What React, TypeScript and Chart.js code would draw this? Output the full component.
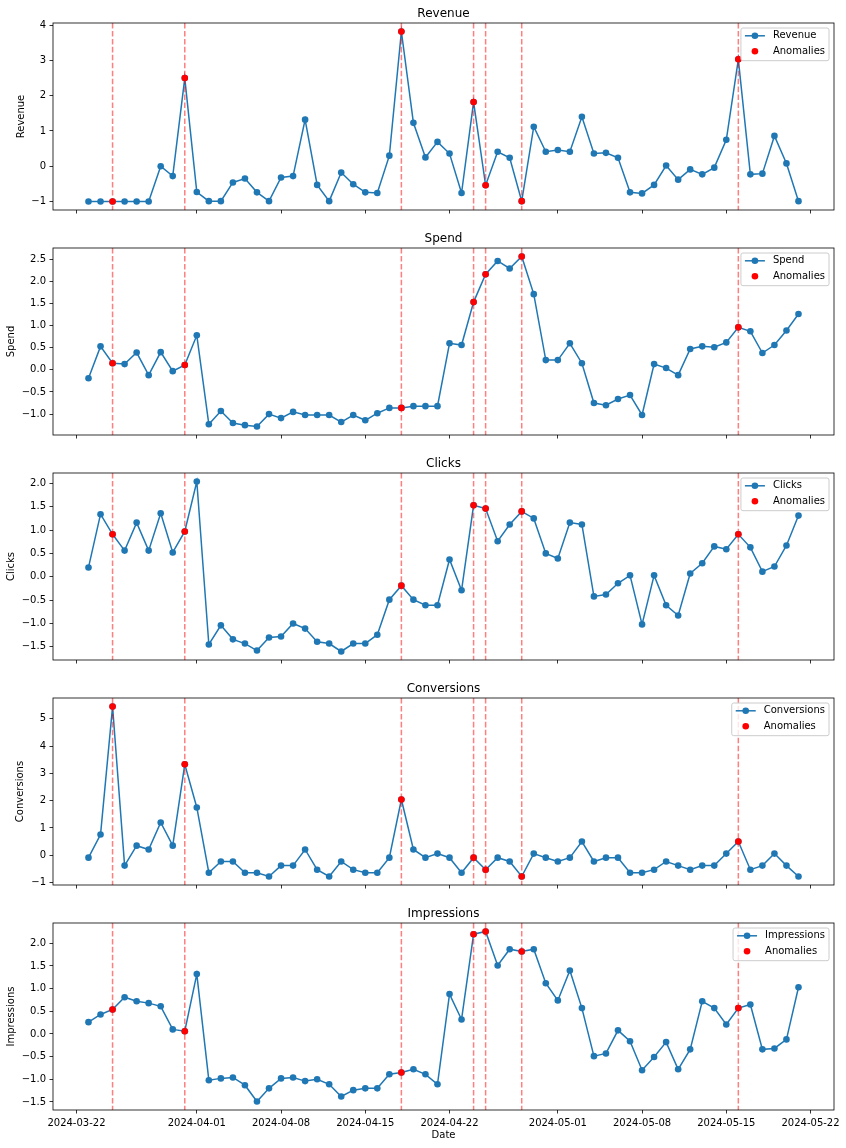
import React, { useEffect, useRef } from 'react';
import { Chart, registerables } from 'chart.js';

Chart.register(...registerables);

// ---------------- data ----------------
const dates = [
  '2024-03-23', '2024-03-24', '2024-03-25', '2024-03-26', '2024-03-27', '2024-03-28', '2024-03-29', '2024-03-30', '2024-03-31', '2024-04-01',
  '2024-04-02', '2024-04-03', '2024-04-04', '2024-04-05', '2024-04-06', '2024-04-07', '2024-04-08', '2024-04-09', '2024-04-10', '2024-04-11',
  '2024-04-12', '2024-04-13', '2024-04-14', '2024-04-15', '2024-04-16', '2024-04-17', '2024-04-18', '2024-04-19', '2024-04-20', '2024-04-21',
  '2024-04-22', '2024-04-23', '2024-04-24', '2024-04-25', '2024-04-26', '2024-04-27', '2024-04-28', '2024-04-29', '2024-04-30', '2024-05-01',
  '2024-05-02', '2024-05-03', '2024-05-04', '2024-05-05', '2024-05-06', '2024-05-07', '2024-05-08', '2024-05-09', '2024-05-10', '2024-05-11',
  '2024-05-12', '2024-05-13', '2024-05-14', '2024-05-15', '2024-05-16', '2024-05-17', '2024-05-18', '2024-05-19', '2024-05-20', '2024-05-21',
];

const tickLabels = ['2024-03-22', '2024-04-01', '2024-04-08', '2024-04-15', '2024-04-22', '2024-05-01', '2024-05-08', '2024-05-15', '2024-05-22'];

const anomalyDates = ['2024-03-25', '2024-03-31', '2024-04-18', '2024-04-24', '2024-04-25', '2024-04-28', '2024-05-16'];

const revenue = [
  -1.0, -1.0, -1.0, -1.0, -1.0, -1.0, 0.0, -0.28, 2.5, -0.73,
  -0.99, -0.99, -0.46, -0.35, -0.74, -0.99, -0.32, -0.28, 1.32, -0.53,
  -0.99, -0.18, -0.51, -0.74, -0.76, 0.3, 3.82, 1.23, 0.25, 0.69,
  0.36, -0.76, 1.82, -0.54, 0.41, 0.24, -0.99, 1.12, 0.41, 0.46,
  0.41, 1.4, 0.36, 0.38, 0.24, -0.74, -0.77, -0.53, 0.02, -0.38,
  -0.09, -0.23, -0.04, 0.75, 3.03, -0.23, -0.21, 0.86, 0.08, -0.99,
];

const spend = [
  -0.19, 0.53, 0.15, 0.13, 0.39, -0.12, 0.4, -0.03, 0.11, 0.78,
  -1.23, -0.93, -1.2, -1.25, -1.28, -1.0, -1.09, -0.95, -1.02, -1.02,
  -1.02, -1.18, -1.02, -1.14, -0.98, -0.86, -0.86, -0.82, -0.82, -0.82,
  0.6, 0.56, 1.53, 2.16, 2.46, 2.29, 2.56, 1.71, 0.22, 0.22,
  0.6, 0.15, -0.75, -0.8, -0.66, -0.57, -1.02, 0.13, 0.04, -0.12,
  0.47, 0.53, 0.51, 0.62, 0.96, 0.87, 0.38, 0.56, 0.89, 1.26,
];

const clicks = [
  0.2, 1.34, 0.91, 0.56, 1.16, 0.56, 1.36, 0.52, 0.97, 2.04,
  -1.45, -1.04, -1.34, -1.43, -1.58, -1.3, -1.28, -1.0, -1.11, -1.39,
  -1.43, -1.6, -1.43, -1.43, -1.24, -0.49, -0.19, -0.49, -0.61, -0.61,
  0.37, -0.29, 1.53, 1.46, 0.76, 1.12, 1.4, 1.25, 0.5, 0.39,
  1.16, 1.12, -0.42, -0.38, -0.14, 0.03, -1.02, 0.03, -0.61, -0.83,
  0.07, 0.29, 0.65, 0.59, 0.91, 0.63, 0.11, 0.22, 0.67, 1.31,
];

const conversions = [
  -0.09, 0.76, 5.45, -0.38, 0.35, 0.21, 1.2, 0.35, 3.33, 1.75,
  -0.64, -0.23, -0.23, -0.64, -0.64, -0.78, -0.38, -0.38, 0.21, -0.53,
  -0.78, -0.23, -0.53, -0.64, -0.64, -0.09, 2.04, 0.21, -0.09, 0.06,
  -0.09, -0.64, -0.09, -0.53, -0.09, -0.23, -0.78, 0.06, -0.09, -0.23,
  -0.09, 0.5, -0.23, -0.09, -0.09, -0.64, -0.64, -0.53, -0.23, -0.38,
  -0.53, -0.38, -0.38, 0.06, 0.5, -0.53, -0.38, 0.06, -0.38, -0.78,
];

const impressions = [
  0.26, 0.43, 0.54, 0.81, 0.72, 0.68, 0.61, 0.1, 0.06, 1.32,
  -1.02, -0.98, -0.96, -1.13, -1.49, -1.2, -0.98, -0.96, -1.04, -1.0,
  -1.11, -1.38, -1.24, -1.2, -1.2, -0.89, -0.85, -0.78, -0.89, -1.11,
  0.88, 0.32, 2.2, 2.26, 1.51, 1.87, 1.82, 1.87, 1.12, 0.74,
  1.4, 0.57, -0.49, -0.43, 0.08, -0.16, -0.8, -0.51, -0.18, -0.78,
  -0.34, 0.72, 0.57, 0.21, 0.57, 0.65, -0.34, -0.32, -0.12, 1.03,
];

const revenueTicks = [-1, 0, 1, 2, 3, 4];
const spendTicks = [-1, -0.5, 0, 0.5, 1, 1.5, 2, 2.5];
const clicksTicks = [-1.5, -1, -0.5, 0, 0.5, 1, 1.5, 2];
const conversionsTicks = [-1, 0, 1, 2, 3, 4, 5];
const impressionsTicks = [-1.5, -1, -0.5, 0, 0.5, 1, 1.5, 2];

// ---------------- styling / helpers ----------------
const FONT = '"DejaVu Sans", "Liberation Sans", sans-serif';
const BLUE = '#1f77b4';
const dayOf = (s: string) => Date.parse(s + 'T00:00:00Z') / 86400000;
const fmt = (v: number, dec: number) => {
  const s = Math.abs(v).toFixed(dec);
  return v < -1e-9 ? '\u2212' + s : s;
};

type PanelDef = {
  name: string;
  values: number[];
  ticks: number[];
  dec: number;
  ylabelPad: number;
  top: number;
  height: number;
  showX: boolean;
};

const panels: PanelDef[] = [
  { name: 'Revenue', values: revenue, ticks: revenueTicks, dec: 0, ylabelPad: 15.7, top: 0, height: 225, showX: false },
  { name: 'Spend', values: spend, ticks: spendTicks, dec: 1, ylabelPad: 5.7, top: 225, height: 225, showX: false },
  { name: 'Clicks', values: clicks, ticks: clicksTicks, dec: 1, ylabelPad: 5.7, top: 450, height: 225, showX: false },
  { name: 'Conversions', values: conversions, ticks: conversionsTicks, dec: 0, ylabelPad: 14.5, top: 675, height: 225, showX: false },
  { name: 'Impressions', values: impressions, ticks: impressionsTicks, dec: 1, ylabelPad: 5.7, top: 900, height: 248, showX: true },
];

function Panel({ p }: { p: PanelDef }) {
  const ref = useRef<HTMLCanvasElement | null>(null);

  useEffect(() => {
    const xs = dates.map(dayOf);
    const xmin0 = Math.min(...xs);
    const xmax0 = Math.max(...xs);
    const xm = (xmax0 - xmin0) * 0.05;
    const ymin0 = Math.min(...p.values);
    const ymax0 = Math.max(...p.values);
    const ym = (ymax0 - ymin0) * 0.05;
    const anomIdx = anomalyDates.map((d) => dates.indexOf(d));
    const tickVals = tickLabels.map(dayOf);

    const mplPlugin = {
      id: 'mplLook',
      afterDatasetDraw(chart: any, args: any) {
        if (args.index !== 0) return;
        const { ctx, chartArea } = chart;
        const xs2 = chart.scales.x;
        ctx.save();
        ctx.strokeStyle = 'rgba(255,0,0,0.5)';
        ctx.lineWidth = 1.5;
        ctx.setLineDash([5.55, 2.4]);
        anomalyDates.forEach((d) => {
          const px = xs2.getPixelForValue(dayOf(d));
          ctx.beginPath();
          ctx.moveTo(px, chartArea.top);
          ctx.lineTo(px, chartArea.bottom);
          ctx.stroke();
        });
        ctx.restore();
      },
      afterDraw(chart: any) {
        const { ctx, chartArea: a } = chart;
        ctx.save();
        // spines
        ctx.strokeStyle = '#000';
        ctx.lineWidth = 0.8;
        ctx.setLineDash([]);
        ctx.strokeRect(a.left, a.top, a.right - a.left, a.bottom - a.top);
        // title
        ctx.fillStyle = '#000';
        ctx.font = `12px ${FONT}`;
        ctx.textAlign = 'center';
        ctx.textBaseline = 'alphabetic';
        ctx.fillText(p.name, (a.left + a.right) / 2, a.top - 6);
        // legend
        ctx.font = `10px ${FONT}`;
        const tw = Math.max(ctx.measureText(p.name).width, ctx.measureText('Anomalies').width);
        const w = 4 + 20 + 8 + tw + 4;
        const h = 32.7;
        const lx = a.right - 5 - w;
        const ly = a.top + 5;
        const r = 2;
        ctx.beginPath();
        ctx.moveTo(lx + r, ly);
        ctx.lineTo(lx + w - r, ly);
        ctx.quadraticCurveTo(lx + w, ly, lx + w, ly + r);
        ctx.lineTo(lx + w, ly + h - r);
        ctx.quadraticCurveTo(lx + w, ly + h, lx + w - r, ly + h);
        ctx.lineTo(lx + r, ly + h);
        ctx.quadraticCurveTo(lx, ly + h, lx, ly + h - r);
        ctx.lineTo(lx, ly + r);
        ctx.quadraticCurveTo(lx, ly, lx + r, ly);
        ctx.closePath();
        ctx.fillStyle = 'rgba(255,255,255,0.8)';
        ctx.fill();
        ctx.strokeStyle = '#cccccc';
        ctx.lineWidth = 1;
        ctx.stroke();
        const row1 = ly + 7.8;
        const row2 = ly + 23.2;
        ctx.strokeStyle = BLUE;
        ctx.lineWidth = 1.5;
        ctx.beginPath();
        ctx.moveTo(lx + 4, row1);
        ctx.lineTo(lx + 24, row1);
        ctx.stroke();
        ctx.fillStyle = BLUE;
        ctx.beginPath();
        ctx.arc(lx + 14, row1, 3.3, 0, Math.PI * 2);
        ctx.fill();
        ctx.fillStyle = 'red';
        ctx.beginPath();
        ctx.arc(lx + 14, row2, 3.3, 0, Math.PI * 2);
        ctx.fill();
        ctx.fillStyle = '#000';
        ctx.textAlign = 'left';
        ctx.textBaseline = 'middle';
        ctx.fillText(p.name, lx + 32, row1);
        ctx.fillText('Anomalies', lx + 32, row2);
        ctx.restore();
      },
    };

    const tickFont = { family: FONT, size: 10 };
    const chart = new Chart(ref.current as HTMLCanvasElement, {
      type: 'line',
      data: {
        datasets: [
          {
            type: 'line',
            label: p.name,
            data: xs.map((x, i) => ({ x, y: p.values[i] })),
            borderColor: BLUE,
            backgroundColor: BLUE,
            borderWidth: 1.5,
            pointRadius: 3.3,
            pointBackgroundColor: BLUE,
            pointBorderWidth: 0,
            tension: 0,
            order: 2,
          } as any,
          {
            type: 'scatter',
            label: 'Anomalies',
            data: anomIdx.map((i) => ({ x: xs[i], y: p.values[i] })),
            pointRadius: 3.3,
            pointBackgroundColor: 'red',
            backgroundColor: 'red',
            pointBorderWidth: 0,
            showLine: false,
            order: 1,
          } as any,
        ],
      },
      options: {
        animation: false,
        responsive: false,
        maintainAspectRatio: false,
        events: [],
        layout: { padding: { top: 23, right: 12, left: 0, bottom: 0 } },
        plugins: {
          legend: { display: false },
          tooltip: { enabled: false },
          title: { display: false },
        },
        scales: {
          x: {
            type: 'linear',
            min: xmin0 - xm,
            max: xmax0 + xm,
            afterBuildTicks: (s: any) => {
              s.ticks = tickVals.map((v) => ({ value: v }));
            },
            afterFit: (s: any) => {
              s.height = p.showX ? 38 : 15;
            },
            ticks: {
              display: p.showX,
              autoSkip: false,
              maxRotation: 0,
              minRotation: 0,
              padding: 3.5,
              color: '#000',
              font: tickFont,
              callback: (v: any) => {
                const i = tickVals.findIndex((t) => Math.abs(t - v) < 1e-6);
                return i >= 0 ? tickLabels[i] : '';
              },
            },
            grid: { drawOnChartArea: false, drawTicks: true, tickLength: 3.5, color: '#000', lineWidth: 0.8 },
            border: { display: false },
            title: {
              display: p.showX,
              text: 'Date',
              color: '#000',
              font: tickFont,
              padding: { top: 0, bottom: 7 },
            },
          },
          y: {
            type: 'linear',
            min: ymin0 - ym,
            max: ymax0 + ym,
            afterBuildTicks: (s: any) => {
              s.ticks = p.ticks.map((v) => ({ value: v }));
            },
            afterFit: (s: any) => {
              s.width = 53;
            },
            ticks: {
              padding: 3.5,
              color: '#000',
              font: tickFont,
              callback: (v: any) => fmt(Number(v), p.dec),
            },
            grid: { drawOnChartArea: false, drawTicks: true, tickLength: 3.5, color: '#000', lineWidth: 0.8 },
            border: { display: false },
            title: {
              display: true,
              text: p.name,
              color: '#000',
              font: tickFont,
              padding: { top: p.ylabelPad, bottom: 0 },
            },
          },
        },
      } as any,
      plugins: [mplPlugin as any],
    });
    return () => chart.destroy();
  }, [p]);

  return (
    <canvas
      ref={ref}
      width={846}
      height={p.height}
      style={{ position: 'absolute', left: 0, top: p.top, width: 846, height: p.height, display: 'block' }}
    />
  );
}

export default function App() {
  return (
    <div style={{ position: 'absolute', left: 0, top: 0, width: 846, height: 1148, background: '#fff' }}>
      {panels.map((p) => (
        <Panel key={p.name} p={p} />
      ))}
    </div>
  );
}
